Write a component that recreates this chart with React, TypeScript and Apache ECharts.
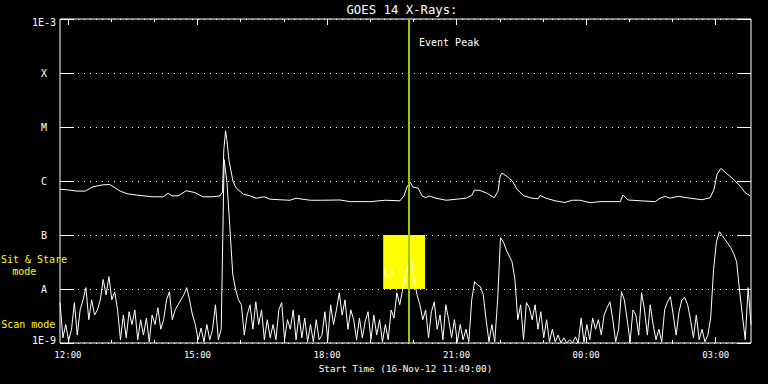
import React, { useEffect, useRef } from "react";
import * as echarts from "echarts";

// Time axis: decimal hours counted from 00:00 on 16-Nov-12 (values > 24 are next day)
const START_HOUR = 11 + 49 / 60;
const END_HOUR = START_HOUR + 16;
const SHORT_STEP_HOURS = 4 / 60;

// GOES 14 long channel (1-8 A), W/m^2
const longTimes = [
  11.82, 11.96, 12.21, 12.4, 12.58, 12.81, 12.97, 13.09, 13.21, 13.37,
  13.67, 13.95, 14.2, 14.32, 14.41, 14.55, 14.74, 14.94, 15.13, 15.34,
  15.52, 15.58, 15.61, 15.65, 15.68, 15.73, 15.82, 15.89, 16.06, 16.22,
  16.36, 16.54, 16.68, 17.14, 17.28, 17.61, 17.84, 18.3, 18.53, 19.0,
  19.34, 19.69, 19.78, 19.85, 19.92, 19.99, 20.11, 20.2, 20.29, 20.36,
  20.52, 20.76, 20.99, 21.22, 21.36, 21.41, 21.54, 21.71, 21.87, 21.96,
  22.01, 22.05, 22.15, 22.29, 22.4, 22.56, 22.75, 22.89, 22.93, 23.07,
  23.28, 23.51, 23.67, 23.86, 24.09, 24.32, 24.79, 24.85, 24.97, 25.25,
  25.6, 25.71, 25.83, 25.94, 26.13, 26.41, 26.68, 26.87, 26.96, 27.03,
  27.12, 27.26, 27.4, 27.56, 27.68, 27.8,
];
const longValues = [
  7.0e-7, 6.9e-7, 6.5e-7, 6.5e-7, 7.8e-7, 8.5e-7, 8.6e-7, 7.5e-7, 6.5e-7, 5.8e-7,
  5.4e-7, 5.1e-7, 5.1e-7, 5.9e-7, 5.3e-7, 5.3e-7, 6.6e-7, 6.1e-7, 5.1e-7, 5.1e-7,
  5.3e-7, 6.3e-7, 3.8e-6, 8.5e-6, 5.8e-6, 2.4e-6, 1.0e-6, 7.5e-7, 5.7e-7, 5.3e-7,
  4.8e-7, 5.1e-7, 4.6e-7, 4.4e-7, 4.8e-7, 4.4e-7, 4.4e-7, 4.45e-7, 4.15e-7, 4.15e-7,
  4.4e-7, 4.3e-7, 5.3e-7, 7.7e-7, 9.6e-7, 7.7e-7, 7.4e-7, 5.3e-7, 4.9e-7, 5.3e-7,
  4.8e-7, 4.4e-7, 4.6e-7, 4.8e-7, 5.5e-7, 6.8e-7, 6.7e-7, 5.9e-7, 4.9e-7, 6.5e-7,
  1.24e-6, 1.4e-6, 1.24e-6, 1.0e-6, 7.0e-7, 5.3e-7, 4.8e-7, 4.7e-7, 5.4e-7, 4.8e-7,
  4.3e-7, 4.0e-7, 4.4e-7, 4.4e-7, 3.96e-7, 4.15e-7, 4.15e-7, 5.5e-7, 4.45e-7, 4.3e-7,
  4.15e-7, 4.8e-7, 5.2e-7, 4.8e-7, 5.2e-7, 4.8e-7, 4.5e-7, 4.9e-7, 7.0e-7, 1.33e-6,
  1.71e-6, 1.36e-6, 1.1e-6, 8.1e-7, 6.1e-7, 5.3e-7,
];

// GOES 14 short channel (0.5-4 A), W/m^2, one sample every 4 minutes from 11:49
const shortValues = [
  5.6e-9, 1.25e-9, 2.2e-9, 1.1e-9, 1.8e-9, 5.6e-9, 1.4e-9, 4.1e-9, 6.3e-9, 1.06e-8,
  2.7e-9, 6.3e-9, 3.3e-9, 4.1e-9, 6.3e-9, 1.5e-8, 7.8e-9, 1.7e-8, 6.3e-9, 8.9e-9,
  4.1e-9, 1.15e-9, 3.3e-9, 1.25e-9, 3.8e-9, 2.2e-9, 4.1e-9, 1.15e-9, 2.7e-9, 1.4e-9,
  2.9e-9, 1.05e-9, 3.3e-9, 2.2e-9, 4.5e-9, 1.8e-9, 2.7e-9, 6.3e-9, 8.9e-9, 2.7e-9,
  4.1e-9, 5.1e-9, 6.3e-9, 7.8e-9, 1.06e-8, 6.3e-9, 3.3e-9, 2.2e-9, 1.15e-9, 1.9e-9,
  1.05e-9, 2.2e-9, 1.15e-9, 1.8e-9, 5.1e-9, 1.15e-9, 1.8e-9, 2.5e-6, 9.3e-7, 1.37e-7,
  1.9e-8, 9.7e-9, 6.3e-9, 5.1e-9, 1.4e-9, 3.3e-9, 5.1e-9, 1.8e-9, 5.8e-9, 2.2e-9,
  4.1e-9, 1.15e-9, 2.7e-9, 1.25e-9, 2.2e-9, 1.15e-9, 4.1e-9, 5.6e-9, 1.15e-9, 2.7e-9,
  1.8e-9, 4.1e-9, 1.15e-9, 3.3e-9, 1.25e-9, 2.9e-9, 1.05e-9, 2.2e-9, 1.05e-9, 2.7e-9,
  1.15e-9, 1.4e-9, 3.8e-9, 1.15e-9, 5.1e-9, 2.2e-9, 4.1e-9, 8.5e-9, 3.3e-9, 6.3e-9,
  1.8e-9, 4.1e-9, 2.7e-9, 1.15e-9, 2.9e-9, 1.25e-9, 2.5e-9, 3.8e-9, 1.15e-9, 3.3e-9,
  1.4e-9, 2.7e-9, 1.05e-9, 2.2e-9, 1.15e-9, 4.1e-9, 2.9e-9, 8.5e-9, 5.1e-9, 9.7e-9,
  1.84e-8, 2.8e-8, 3.8e-8, 1.5e-8, 7.8e-9, 5.1e-9, 2.7e-9, 4.1e-9, 1.25e-9, 3.8e-9,
  5.8e-9, 1.8e-9, 3.3e-9, 1.15e-9, 5.1e-9, 2.7e-9, 1.25e-9, 2.7e-9, 1.05e-9, 2.2e-9,
  1.15e-9, 1.8e-9, 1.05e-9, 6.3e-9, 1.37e-8, 1.2e-8, 1.1e-8, 7.8e-9, 2.7e-9, 1.05e-9,
  2.2e-9, 1.05e-9, 6.3e-9, 8.9e-8, 7.5e-8, 5.3e-8, 4.1e-8, 3.2e-8, 1.5e-8, 2.7e-9,
  5.1e-9, 1.15e-9, 5.6e-9, 4.5e-9, 2.7e-9, 5.1e-9, 1.8e-9, 3.8e-9, 1.25e-9, 2.7e-9,
  1.05e-9, 1.8e-9, 1.05e-9, 1.4e-9, 1.0e-9, 1.25e-9, 1.0e-9, 1.15e-9, 1.0e-9, 1.3e-9,
  1.0e-9, 2.9e-9, 1.05e-9, 2.2e-9, 1.15e-9, 2.9e-9, 1.8e-9, 2.7e-9, 1.4e-9, 3.3e-9,
  4.5e-9, 5.8e-9, 2.7e-9, 1.05e-9, 1.8e-9, 8.9e-9, 6.3e-9, 2.7e-9, 1.05e-9, 4.1e-9,
  3.3e-9, 1.4e-9, 8.5e-9, 4.1e-9, 1.4e-9, 5.1e-9, 2.2e-9, 1.15e-9, 1.8e-9, 1.05e-9,
  4.1e-9, 5.8e-9, 7.2e-9, 3.3e-9, 1.4e-9, 3.8e-9, 6.3e-9, 6.9e-9, 5.1e-9, 2.7e-9,
  1.25e-9, 3.3e-9, 1.15e-9, 1.8e-9, 1.05e-9, 1.4e-9, 2.9e-9, 2.3e-8, 7.5e-8, 1.15e-7,
  9.7e-8, 8.2e-8, 6.9e-8, 5.8e-8, 4.5e-8, 3.2e-8, 9.7e-9, 3.3e-9, 1.15e-9, 1.06e-8,
  2.2e-9,
];

const majorHours = [12, 15, 18, 21, 24, 27];
const hourTicks = [12, 13, 14, 15, 16, 17, 18, 19, 20, 21, 22, 23, 24, 25, 26, 27];
const yLabels = ["1E-9", "A", "B", "C", "M", "X", "1E-3"];
const eventPeakHour = 19.9;
const sitStareHours = [19.3, 20.27];
const sitStareFlux = [1e-8, 1e-7];

const FONT = "DejaVu Sans Mono";

export default function App() {
  const ref = useRef<HTMLDivElement>(null);

  useEffect(() => {
    if (!ref.current) return;
    const chart = echarts.init(ref.current, undefined, { renderer: "svg" });

    const longData = longTimes.map((t, i) => [t, longValues[i]]);
    const shortData = shortValues.map((v, i) => [START_HOUR + i * SHORT_STEP_HOURS, v]);

    const fmtHour = (v: number) => String(Math.round(v) % 24).padStart(2, "0") + ":00";
    const yFmt = (v: number) => {
      const k = Math.round(Math.log10(v)) + 9;
      const l = yLabels[k] ?? "";
      if (k === 6) return "{top|" + l + "}";
      if (k === 0) return "{bot|" + l + "}";
      return l;
    };

    const xBase: any = {
      type: "value",
      min: START_HOUR,
      max: END_HOUR,
      axisLine: { show: false },
      splitLine: { show: false },
    };
    const tickStyle = { color: "#fff", width: 1 };
    const yBase: any = {
      type: "log",
      logBase: 10,
      min: 1e-9,
      max: 1e-3,
      splitNumber: 6,
      axisLine: { show: false },
    };

    chart.setOption({
      animation: false,
      backgroundColor: "#000",
      grid: {
        left: 60,
        right: 17,
        top: 19,
        bottom: 41,
        show: true,
        borderColor: "#fff",
        borderWidth: 1,
        backgroundColor: "transparent",
      },
      xAxis: [
        {
          ...xBase,
          position: "bottom",
          axisTick: { show: true, inside: true, length: 6, customValues: majorHours, lineStyle: tickStyle },
          axisLabel: {
            show: true,
            customValues: majorHours,
            formatter: fmtHour,
            color: "#fff",
            fontFamily: FONT,
            fontSize: 9,
            margin: 7,
          },
          name: "Start Time (16-Nov-12 11:49:00)",
          nameLocation: "middle",
          nameGap: 20,
          nameTextStyle: { color: "#fff", fontFamily: FONT, fontSize: 9.3 },
        },
        {
          ...xBase,
          position: "bottom",
          axisTick: { show: true, inside: true, length: 3, customValues: hourTicks, lineStyle: tickStyle },
          axisLabel: { show: false },
        },
        {
          ...xBase,
          position: "top",
          axisTick: { show: true, inside: true, length: 6, customValues: majorHours, lineStyle: tickStyle },
          axisLabel: { show: false },
        },
        {
          ...xBase,
          position: "top",
          axisTick: { show: true, inside: true, length: 3, customValues: hourTicks, lineStyle: tickStyle },
          axisLabel: { show: false },
        },
      ],
      yAxis: [
        {
          ...yBase,
          position: "left",
          axisTick: { show: true, inside: true, length: 14, lineStyle: tickStyle },
          axisLabel: {
            formatter: yFmt,
            color: "#fff",
            fontFamily: FONT,
            fontSize: 10,
            align: "center",
            margin: 16,
            rich: {
              top: { color: "#fff", fontFamily: FONT, fontSize: 10, padding: [7, 0, 0, 0] },
              bot: { color: "#fff", fontFamily: FONT, fontSize: 10, padding: [0, 0, 6, 0] },
            },
          },
          splitLine: { show: true, lineStyle: { color: "#fff", width: 1, type: [1, 5] } },
        },
        {
          ...yBase,
          position: "right",
          axisTick: { show: true, inside: true, length: 14, lineStyle: tickStyle },
          axisLabel: { show: false },
          splitLine: { show: false },
        },
      ],
      series: [
        {
          name: "Long 1-8 A",
          type: "line",
          data: longData,
          showSymbol: false,
          xAxisIndex: 0,
          yAxisIndex: 0,
          z: 1,
          lineStyle: { color: "#fff", width: 1 },
          markArea: {
            silent: true,
            itemStyle: { color: "#ffff00", opacity: 1 },
            data: [
              [
                { xAxis: sitStareHours[0], yAxis: sitStareFlux[0] },
                { xAxis: sitStareHours[1], yAxis: sitStareFlux[1] },
              ],
            ],
          },
        },
        {
          name: "Short 0.5-4 A",
          type: "line",
          data: shortData,
          showSymbol: false,
          xAxisIndex: 0,
          yAxisIndex: 0,
          z: 2,
          lineStyle: { color: "#fff", width: 1 },
          markLine: {
            silent: true,
            symbol: "none",
            label: { show: false },
            lineStyle: { color: "#99cc00", width: 2, type: "solid" },
            data: [{ xAxis: eventPeakHour }],
          },
        },
      ],
      graphic: [
        {
          type: "text",
          x: 402,
          y: 9.5,
          style: { text: "GOES 14 X-Rays:", fill: "#fff", font: `12.3px "${FONT}"`, align: "center", verticalAlign: "middle" },
        },
        {
          type: "text",
          x: 419,
          y: 42.5,
          z: 10,
          style: { text: "Event Peak", fill: "#fff", font: `10px "${FONT}"`, align: "left", verticalAlign: "middle" },
        },
        {
          type: "text",
          x: 34,
          y: 259.5,
          z: 10,
          style: { text: "Sit & Stare", fill: "#ffff00", font: `10px "${FONT}"`, align: "center", verticalAlign: "middle" },
        },
        {
          type: "text",
          x: 24.3,
          y: 271.3,
          z: 10,
          style: { text: "mode", fill: "#ffff00", font: `10px "${FONT}"`, align: "center", verticalAlign: "middle" },
        },
        {
          type: "text",
          x: 28.3,
          y: 324,
          z: 10,
          style: { text: "Scan mode", fill: "#ffff00", font: `10px "${FONT}"`, align: "center", verticalAlign: "middle" },
        },
        {
          type: "ellipse",
          z: 10,
          shape: { cx: 388.5, cy: 271.8, rx: 3.8, ry: 5.6 },
          style: { fill: "none", stroke: "#fff", lineWidth: 1 },
        },
      ],
    });

    return () => chart.dispose();
  }, []);

  return (
    <div
      ref={ref}
      style={{ position: "fixed", left: 0, top: 0, width: 768, height: 384, background: "#000" }}
    />
  );
}
